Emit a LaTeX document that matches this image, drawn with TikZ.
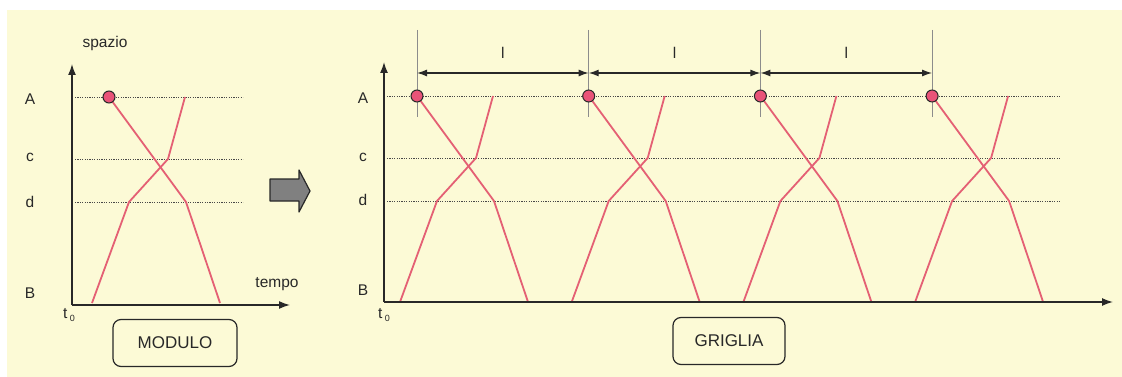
\documentclass[tikz,border=0pt]{standalone}
\usepackage{fontspec}
\setmainfont{Liberation Sans}
\usetikzlibrary{arrows.meta,calc}
\definecolor{bg}{RGB}{252,250,214}
\definecolor{routec}{RGB}{228,96,116}
\definecolor{dotc}{RGB}{233,83,120}
\definecolor{ink}{RGB}{40,40,40}
\definecolor{arrowfill}{RGB}{128,128,128}
\begin{document}
\begin{tikzpicture}[x=1pt,y=-1pt,
  lbl/.style={font=\fontsize{15.5}{18}\selectfont, text=ink, inner sep=0pt},
  axisline/.style={line width=1.5pt, ink, -{Latex[length=11pt,width=8pt]}},
  guide/.style={line width=0.9pt, ink!85, dash pattern=on 1.2pt off 1.2pt},
  routeline/.style={line width=1.8pt, routec, line join=round},
  stopdot/.style={circle, draw=ink, fill=dotc, line width=1pt, minimum size=12pt, inner sep=0pt},
  tickline/.style={line width=0.6pt, black!45},
  dimline/.style={line width=1.3pt, ink, {Latex[length=10pt,width=7pt]}-{Latex[length=10pt,width=7pt]}},
  boxlbl/.style={draw=ink, line width=1.2pt, rounded corners=8pt, font=\fontsize{17}{20}\selectfont, text=ink, minimum width=124pt, minimum height=47pt, inner sep=0pt},
  modulepic/.pic={
    \draw[routeline] (0,0) -- (77,105) -- (111,206);
    \draw[routeline] (-17,206) -- (20,105) -- (59,62) -- (76,0);
    \node[stopdot] (-s) at (0,0) {};
  }]
\useasboundingbox (0,0) rectangle (1122,377);
\fill[bg] (7,10) rectangle (1122,377);

% ---------- left chart (MODULO) ----------
\coordinate (lo) at (72,305);
\coordinate (ly) at (72,64);
\coordinate (lx) at (290,305);
\foreach \n/\yy in {A/97,c/159,d/202}{
  \coordinate (lg\n a) at (75,\yy);
  \coordinate (lg\n b) at (243,\yy);
  \draw[guide] (lg\n a) -- (lg\n b);
}
\pic (m0) at (109,97) {modulepic};
\draw[axisline] (lo) -- (ly);
\draw[axisline] (lo) -- (lx);
\node[lbl] (lspazio) at (105,43) {spazio};
\node[lbl] (lA) at (30,99) {A};
\node[lbl] (lc) at (30,157) {c};
\node[lbl] (ld) at (30,202) {d};
\node[lbl] (lB) at (30,293) {B};
\node[lbl] (ltempo) at (277,284) {tempo};
\node[lbl] (lt0) at (69,315) {t\,\raisebox{-3pt}{\fontsize{9}{9}\selectfont 0}};
\node[boxlbl] (modulo) at (175,343) {MODULO};

% ---------- block arrow ----------
\fill[arrowfill, draw=ink, line width=1.2pt, line join=round]
  (270,179) -- (299,179) -- (299,170) -- (310,191) -- (299,212) -- (299,201) -- (270,201) -- cycle;

% ---------- right chart (GRIGLIA) ----------
\coordinate (ro) at (384,302);
\coordinate (ry) at (384,62);
\coordinate (rx) at (1113,302);
\foreach \n/\yy in {A/96,c/158,d/201}{
  \coordinate (rg\n a) at (387,\yy);
  \coordinate (rg\n b) at (1060,\yy);
  \draw[guide] (rg\n a) -- (rg\n b);
}
\foreach \i in {0,1,2,3}{
  \pgfmathsetmacro{\xx}{417+171.7*\i}
  \coordinate (ta\i) at (\xx,30);
  \coordinate (tb\i) at (\xx,117);
  \coordinate (td\i) at (\xx,73);
  \draw[tickline] (ta\i) -- (tb\i);
}
\foreach \i in {0,1,2,3}{
  \pgfmathsetmacro{\xx}{417+171.7*\i}
  \pic (g\i) at (\xx,96) {modulepic};
}
\foreach \i/\j in {0/1,1/2,2/3}{
  \draw[dimline] (td\i) -- (td\j);
  \node[lbl] (len\i) at ($(td\i)!0.5!(td\j)+(0,-20)$) {l};
}
\draw[axisline] (ro) -- (ry);
\draw[axisline] (ro) -- (rx);
\node[lbl] (rA) at (363,98) {A};
\node[lbl] (rc) at (363,157) {c};
\node[lbl] (rd) at (363,200) {d};
\node[lbl] (rB) at (363,290) {B};
\node[lbl] (rt0) at (384,315) {t\,\raisebox{-3pt}{\fontsize{9}{9}\selectfont 0}};
\node[boxlbl, minimum width=112pt] (griglia) at (729,341) {GRIGLIA};
\end{tikzpicture}
\end{document}
